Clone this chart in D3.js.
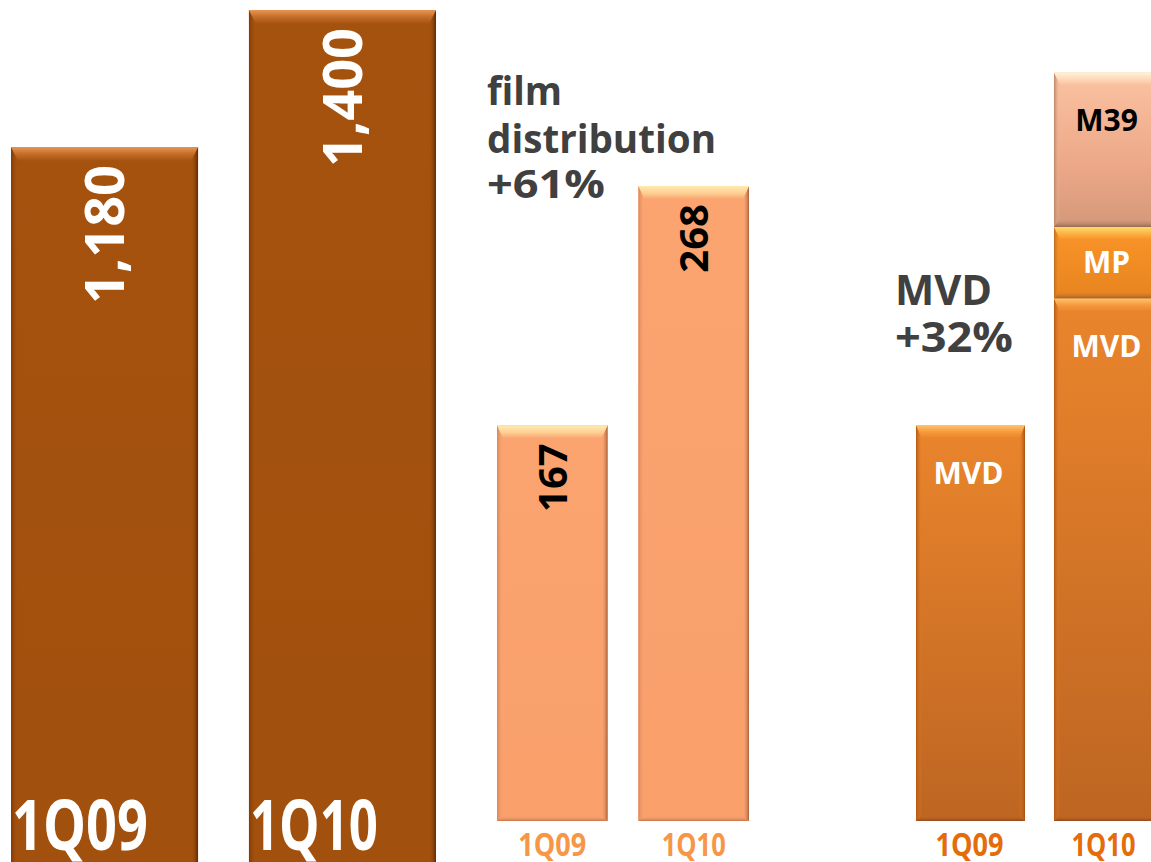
<!DOCTYPE html>
<html>
<head>
<meta charset="utf-8">
<script src="https://cdn.jsdelivr.net/npm/d3@7/dist/d3.min.js"></script>
<style>
  html, body { margin: 0; padding: 0; background: #ffffff; }
  svg { display: block; }
  text { font-family: "Open Sans", "Noto Sans", sans-serif; font-weight: 700; }
</style>
</head>
<body>
<svg id="chart" width="1151" height="862"></svg>
<script>
// ---------------- data ----------------
const quarters = ["1Q09", "1Q10"];
const totalValues = [1180, 1400];          // group 1 (total)
const filmValues = [167, 268];             // film distribution
const segmentNames = ["MVD", "MP", "M39"]; // stacked segments, bottom to top
const segValues1Q09 = [100, 0, 0];         // index, MVD 1Q09 = 100
const segValues1Q10 = [132, 18, 39];
const filmTitle = ["film", "distribution", "+61%"];
const mvdTitle = ["MVD", "+32%"];

// ---------------- setup ----------------
const svg = d3.select("#chart");
const defs = svg.append("defs");

function linGrad(id, stops, vertical) {
  const g = defs.append("linearGradient").attr("id", id)
    .attr("x1", 0).attr("y1", 0)
    .attr("x2", vertical ? 0 : 1).attr("y2", vertical ? 1 : 0);
  stops.forEach(s => g.append("stop").attr("offset", s[0]).attr("stop-color", s[1]).attr("stop-opacity", s[2] === undefined ? 1 : s[2]));
  return `url(#${id})`;
}

const styles = {
  dark: {
    fill: linGrad("darkFill", [[0, "#a5520f"], [1, "#a2500d"]], true),
    top: linGrad("darkTop", [[0, "#e89550"], [0.5, "#c46d2a"], [1, "#a5520f"]], true),
    left: linGrad("darkLeft", [[0, "#7f3a06"], [1, "#a5520f", 0]], false),
    right: linGrad("darkRight", [[0, "#a5520f", 0], [1, "#5e2a04"]], false),
    bottom: linGrad("darkBottom", [[0, "#a5520f", 0], [1, "#6a3005"]], true),
    bt: 14, bs: 7, bb: 6
  },
  light: {
    fill: linGrad("lightFill", [[0, "#fba470"], [1, "#f9a06b"]], true),
    top: linGrad("lightTop", [[0, "#ffeab0"], [0.55, "#fdd094"], [1, "#fba470"]], true),
    left: linGrad("lightLeft", [[0, "#d9855a"], [1, "#fba470", 0]], false),
    right: linGrad("lightRight", [[0, "#fba470", 0], [1, "#a75f3a"]], false),
    bottom: linGrad("lightBottom", [[0, "#fba470", 0], [1, "#c4744c"]], true),
    bt: 13, bs: 6, bb: 5
  },
  mvd: {
    fill: linGrad("mvdFill", [[0, "#ea852c"], [1, "#bd6522"]], true),
    top: linGrad("mvdTop", [[0, "#ffc46a"], [0.5, "#f59a3c"], [1, "#e8812a"]], true),
    left: linGrad("mvdLeft", [[0, "#b35812"], [1, "#e8812a", 0]], false),
    right: linGrad("mvdRight", [[0, "#e8812a", 0], [1, "#a54f10"]], false),
    bottom: linGrad("mvdBottom", [[0, "#c56622", 0], [1, "#8f4a1a"]], true),
    bt: 14, bs: 6, bb: 5
  },
  mp: {
    fill: linGrad("mpFill", [[0, "#f99528"], [1, "#e8841f"]], true),
    top: linGrad("mpTop", [[0, "#ffd86a"], [1, "#f99528"]], true),
    left: linGrad("mpLeft", [[0, "#bd6a1e"], [1, "#f99528", 0]], false),
    right: linGrad("mpRight", [[0, "#f99528", 0], [1, "#b56218"]], false),
    bottom: linGrad("mpBottom", [[0, "#e8841f", 0], [1, "#9a6238"]], true),
    bt: 12, bs: 6, bb: 7
  },
  m39: {
    fill: linGrad("m39Fill", [[0, "#fbc3a2"], [0.6, "#eca888"], [1, "#d4987a"]], true),
    top: linGrad("m39Top", [[0, "#fff3d6"], [1, "#fbc3a2"]], true),
    left: linGrad("m39Left", [[0, "#b88468"], [1, "#fbc3a2", 0]], false),
    right: linGrad("m39Right", [[0, "#fbc3a2", 0], [1, "#c99074"]], false),
    bottom: linGrad("m39Bottom", [[0, "#d4987a", 0], [1, "#946a50"]], true),
    bt: 12, bs: 6, bb: 8
  }
};

function bevelBar(g, x, y, w, h, st) {
  const b = st.bt, s = st.bs, bb = st.bb;
  g.append("rect").attr("x", x).attr("y", y).attr("width", w).attr("height", h).attr("fill", st.fill);
  g.append("polygon").attr("points", [[x, y], [x + s, y + b], [x + s, y + h - bb], [x, y + h]].join(" ")).attr("fill", st.left);
  g.append("polygon").attr("points", [[x + w, y], [x + w - s, y + b], [x + w - s, y + h - bb], [x + w, y + h]].join(" ")).attr("fill", st.right);
  g.append("polygon").attr("points", [[x, y + h], [x + s, y + h - bb], [x + w - s, y + h - bb], [x + w, y + h]].join(" ")).attr("fill", st.bottom);
  g.append("polygon").attr("points", [[x, y], [x + w, y], [x + w - s, y + b], [x + s, y + b]].join(" ")).attr("fill", st.top);
}

function fitText(sel, width) {
  sel.attr("textLength", width).attr("lengthAdjust", "spacingAndGlyphs");
}

// ---------------- group 1: totals ----------------
const x1 = d3.scaleBand().domain(quarters).range([11, 436]).paddingInner(0.214).paddingOuter(0);
const y1 = d3.scaleLinear().domain([0, 1400]).range([882, 10]);
const g1 = svg.append("g");
quarters.forEach((q, i) => {
  const x = x1(q), w = x1.bandwidth(), y = y1(totalValues[i]), h = y1(0) - y;
  bevelBar(g1, x, y, w, h, styles.dark);
  g1.append("text")
    .attr("transform", `translate(${x + w / 2},${y + 18}) rotate(-90)`)
    .attr("text-anchor", "end").attr("dy", "0.36em")
    .attr("font-size", 54).attr("fill", "#ffffff")
    .text(d3.format(",")(totalValues[i]));
  const t = g1.append("text")
    .attr("x", x + 1).attr("y", 850)
    .attr("font-size", 70).attr("fill", "#ffffff")
    .text(q);
  fitText(t, i === 0 ? 136 : 128);
});

// ---------------- group 2: film distribution ----------------
const x2 = d3.scaleBand().domain(quarters).range([497, 749]).paddingInner(0.218).paddingOuter(0);
const y2 = d3.scaleLinear().domain([0, 268]).range([821, 186]);
const g2 = svg.append("g");
quarters.forEach((q, i) => {
  const x = x2(q), w = x2.bandwidth(), y = y2(filmValues[i]), h = y2(0) - y;
  bevelBar(g2, x, y, w, h, styles.light);
  g2.append("text")
    .attr("transform", `translate(${x + w / 2},${y + 18}) rotate(-90)`)
    .attr("text-anchor", "end").attr("dy", "0.36em")
    .attr("font-size", 40).attr("fill", "#000000")
    .text(filmValues[i]);
  const t = g2.append("text")
    .attr("x", x + w / 2).attr("y", 856).attr("text-anchor", "middle")
    .attr("font-size", 33).attr("fill", "#f79646")
    .text(q);
  fitText(t, i === 0 ? 68 : 64);
});
filmTitle.forEach((line, i) => {
  const t = svg.append("text")
    .attr("x", 487).attr("y", [105, 153, 198][i])
    .attr("font-size", 40).attr("fill", "#404040")
    .text(line);
  fitText(t, [75, 229, 118][i]);
});

// ---------------- group 3: MVD stacked ----------------
const x3 = d3.scaleBand().domain(quarters).range([916, 1163]).paddingInner(0.21).paddingOuter(0);
const y3 = d3.scaleLinear().domain([0, 100]).range([821, 425]);
const stackData = quarters.map((q, i) => {
  const vals = i === 0 ? segValues1Q09 : segValues1Q10;
  const o = { q };
  segmentNames.forEach((s, j) => o[s] = vals[j]);
  return o;
});
const series = d3.stack().keys(segmentNames)(stackData);
const segStyle = { MVD: styles.mvd, MP: styles.mp, M39: styles.m39 };
const segText = { MVD: "#ffffff", MP: "#ffffff", M39: "#000000" };
const g3 = svg.append("g");
series.forEach(sr => {
  sr.forEach(d => {
    const v = d[1] - d[0];
    if (v <= 0) return;
    const q = d.data.q;
    const x = x3(q), w = x3.bandwidth(), y = y3(d[1]), h = y3(d[0]) - y;
    bevelBar(g3, x, y, w, h, segStyle[sr.key]);
    g3.append("text")
      .attr("x", x + w / 2 - 2).attr("y", y + Math.min(48, h / 2))
      .attr("dy", "0.36em").attr("text-anchor", "middle")
      .attr("font-size", 30).attr("fill", segText[sr.key])
      .text(sr.key);
  });
});
quarters.forEach((q, i) => {
  const t = g3.append("text")
    .attr("x", x3(q) + x3.bandwidth() / 2 + (i === 0 ? -1 : -5)).attr("y", 856).attr("text-anchor", "middle")
    .attr("font-size", 33).attr("fill", "#e46c0a")
    .text(q);
  fitText(t, i === 0 ? 68 : 64);
});
mvdTitle.forEach((line, i) => {
  const t = svg.append("text")
    .attr("x", 895).attr("y", [305, 352][i])
    .attr("font-size", 42).attr("fill", "#404040")
    .text(line);
  fitText(t, [97, 118][i]);
});
</script>
</body>
</html>
